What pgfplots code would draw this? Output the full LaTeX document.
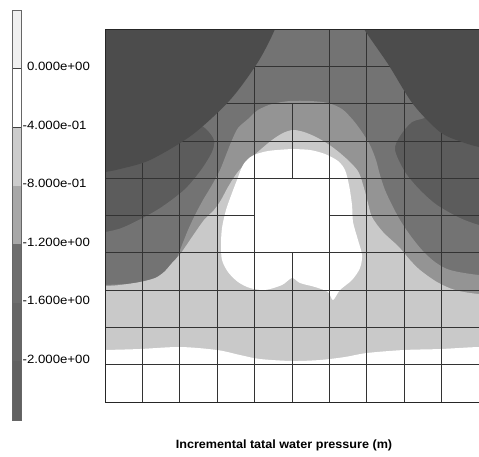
\documentclass[border=0pt]{standalone}
\usepackage{fontspec}
\setmainfont{Liberation Sans}
\newfontfamily\labfont[FakeStretch=1.1]{Liberation Sans}
\newfontfamily\capfont[FakeStretch=1.05]{Liberation Sans}
\usepackage{pgfplots}
\pgfplotsset{compat=1.18}
\definecolor{tz}{gray}{0.30}
\definecolor{td}{gray}{0.36}
\definecolor{ta}{gray}{0.45}
\definecolor{tb}{gray}{0.58}
\definecolor{tc}{gray}{0.79}
\definecolor{cbtop}{gray}{0.94}
\definecolor{cbc}{gray}{0.80}
\definecolor{cbb}{gray}{0.66}
\definecolor{cba}{gray}{0.43}
\definecolor{cbz}{gray}{0.40}
\definecolor{cby}{gray}{0.38}
\begin{document}
\begin{tikzpicture}[x=1pt,y=1pt]
\path[use as bounding box] (0,0) rectangle (479,456);
\begin{axis}[at={(105pt,54pt)}, anchor=south west, width=374pt, height=373pt, scale only axis,
  xmin=105, xmax=479, ymin=29, ymax=402, y dir=reverse, ticks=none,
  axis on top, axis line style={black!85, line width=0.9pt}, unbounded coords=jump, clip=true]
% band -2.0 .. -1.6 (background)
\addplot[fill=td, draw=none] coordinates {(90,20) (500,20) (500,420) (90,420)};
% band -1.6 .. -1.2
\addplot[fill=ta, draw=none, smooth, tension=0.5] coordinates {
(60,234) (90,233) (105,232) (124,227) (157,210) (184,190) (201,170) (212,152) (214,140) (205,128)
(180,110) (150,60) (150,15) (450,15) (455,60) (432,112) (412,122) (400,136) (395,150)
(405,172) (420,190) (437,205) (460,218) (479,225) (495,228) (520,230) (520,450) (60,450)};
% band -1.2 .. -0.8
\addplot[fill=tb, draw=none, smooth, tension=0.5] coordinates {
(60,286) (105,285) (140,283) (160,278) (170,270) (176,260) (182,245) (188,230) (195,215) (203,200)
(212,185) (220,170) (226,155) (232,140) (238,128) (248,119) (258,110) (272,104) (290,101) (310,101)
(328,103) (342,109) (353,120) (362,132) (370,145) (376,160) (380,175) (385,190) (392,205) (400,220)
(410,235) (422,250) (435,262) (450,270) (479,275) (520,277) (520,450) (60,450)};
% band -0.8 .. -0.4
\addplot[fill=tc, draw=none, smooth, tension=0.5] coordinates {
(60,287) (105,286) (120,285) (140,282) (155,278) (164,272) (172,263) (181,253) (192,237) (204,220)
(214,210) (221,200) (228,187) (237,173) (248,161) (260,150) (272,140) (283,133) (293,130) (304,132)
(316,137) (328,144) (340,153) (352,164) (359,173) (364,188) (368,203) (372,217) (383,232) (399,247)
(410,260) (420,270) (437,282) (455,290) (479,294) (520,296) (520,450) (60,450)};
% bottom band above -0.4
\addplot[fill=white, draw=none, smooth, tension=0.5] coordinates {
(60,351) (105,350) (140,349) (180,347) (217,350) (240,355) (260,359) (292,361) (320,360) (345,357)
(367,353) (404,350) (441,349) (479,347) (520,347) (520,450) (60,450)};
% core above -0.4
\addplot[fill=white, draw=none, smooth, tension=0.5] coordinates {
(292,149) (310,150) (325,154) (338,161) (345,170) (349,185) (352,205) (353,222) (358,240) (362,255)
(360,268) (352,280) (340,290) (333,300) (328,292) (315,287) (300,283) (292,278) (282,285) (265,290)
(250,288) (238,282) (228,272) (222,260) (221,245) (222,228) (226,210) (232,193) (237,180) (243,165)
(252,156) (268,151) (292,149)};
% element mesh
\addplot[black!80, line width=0.8pt] coordinates {
(105,66.3)(479,66.3)(nan,nan)
(105,103.6)(479,103.6)(nan,nan)
(105,140.9)(479,140.9)(nan,nan)
(105,178.2)(479,178.2)(nan,nan)
(105,215.5)(254.6,215.5)(nan,nan)
(329.4,215.5)(479,215.5)(nan,nan)
(105,252.8)(479,252.8)(nan,nan)
(105,290.1)(479,290.1)(nan,nan)
(105,327.4)(479,327.4)(nan,nan)
(105,364.7)(479,364.7)(nan,nan)
(142.4,29)(142.4,402)(nan,nan)
(179.8,29)(179.8,402)(nan,nan)
(217.2,29)(217.2,402)(nan,nan)
(254.6,29)(254.6,402)(nan,nan)
(292,103.6)(292,178.2)(nan,nan)
(292,252.8)(292,402)(nan,nan)
(329.4,29)(329.4,402)(nan,nan)
(366.8,29)(366.8,402)(nan,nan)
(404.2,29)(404.2,402)(nan,nan)
(441.6,29)(441.6,402)};
% band below -2.0 (corners)
\addplot[fill=tz, draw=none, smooth, tension=0.5] coordinates {
(60,20) (275,20) (275,29) (258,62) (230,100) (192,135) (150,160) (120,169) (105,172) (90,174) (60,176)};
\addplot[fill=tz, draw=none, smooth, tension=0.5] coordinates {
(362,20) (364,29) (388,64) (413,104) (440,132) (462,142) (479,147) (490,148) (520,150) (520,20)};
\end{axis}
\begin{axis}[at={(12pt,36pt)}, anchor=south west, width=9pt, height=410pt, scale only axis,
  xmin=0, xmax=1, ymin=-2.4, ymax=0.4, xtick=\empty,
  ytick={-2.0,-1.6,-1.2,-0.8,-0.4,0},
  yticklabels={-2.000e+00,-1.600e+00,-1.200e+00,-8.000e-01,-4.000e-01,\phantom{-}0.000e+00},
  yticklabel pos=right, major tick length=0pt,
  yticklabel style={font=\labfont\fontsize{12}{14}\selectfont, inner sep=0pt, xshift=1.5pt, yshift=2pt},
  axis on top, axis line style={black!60, line width=0.5pt}, unbounded coords=jump]
\addplot[fill=cbtop, draw=none] coordinates {(0,0.4)(1,0.4)(1,0)(0,0)};
\addplot[fill=white, draw=none] coordinates {(0,0)(1,0)(1,-0.4)(0,-0.4)};
\addplot[fill=cbc, draw=none] coordinates {(0,-0.4)(1,-0.4)(1,-0.8)(0,-0.8)};
\addplot[fill=cbb, draw=none] coordinates {(0,-0.8)(1,-0.8)(1,-1.2)(0,-1.2)};
\addplot[fill=cba, draw=none] coordinates {(0,-1.2)(1,-1.2)(1,-1.6)(0,-1.6)};
\addplot[fill=cbz, draw=none] coordinates {(0,-1.6)(1,-1.6)(1,-2.0)(0,-2.0)};
\addplot[fill=cby, draw=none] coordinates {(0,-2.0)(1,-2.0)(1,-2.4)(0,-2.4)};
\addplot[black!75, line width=0.5pt] coordinates {(0,0)(1,0)(nan,nan)(0,-0.4)(1,-0.4)};
\end{axis}
\node[font=\capfont\bfseries\fontsize{12}{14}\selectfont] at (284,11) {Incremental tatal water pressure (m)};
\end{tikzpicture}
\end{document}
